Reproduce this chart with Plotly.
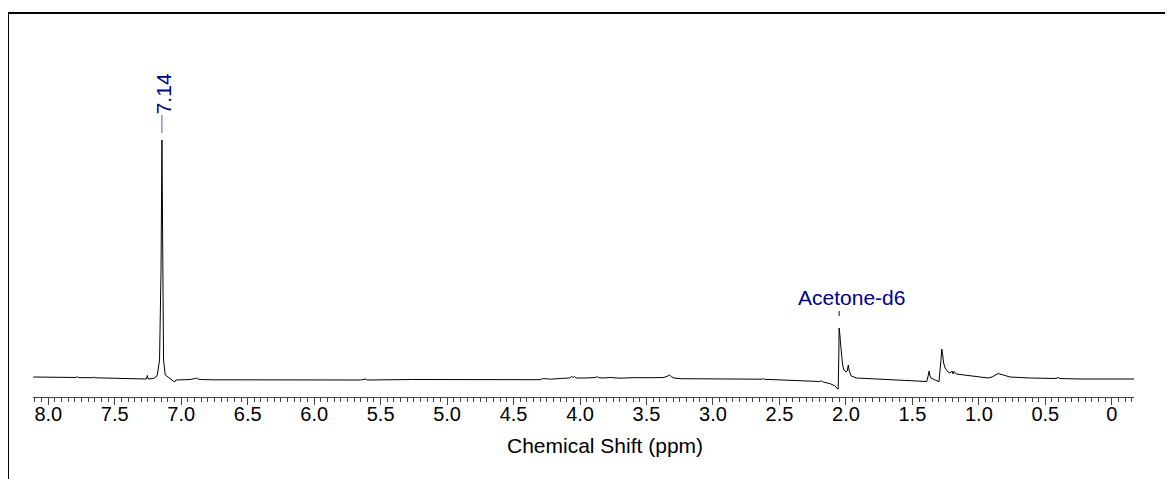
import plotly.graph_objects as go

# ---- data ----
shift_ppm = [
    8.113, 7.910, 7.790, 7.782, 7.775, 7.662, 7.655, 7.648, 7.534, 7.406,
    7.308, 7.263, 7.255, 7.248, 7.210, 7.190, 7.180, 7.163, 7.152, 7.145,
    7.138, 7.133, 7.120, 7.100, 7.075, 7.060, 7.050, 7.040, 6.932, 6.895,
    6.887, 6.870, 6.857, 6.759, 6.481, 5.650, 5.616, 5.600, 5.262, 4.300,
    4.277, 4.250, 4.224, 4.149, 4.080, 4.062, 4.051, 4.040, 4.029, 3.961,
    3.880, 3.871, 3.860, 3.826, 3.773, 3.698, 3.608, 3.450, 3.370, 3.340,
    3.326, 3.310, 3.292, 3.247, 2.923, 2.720, 2.630, 2.622, 2.612, 2.570,
    2.419, 2.269, 2.200, 2.185, 2.171, 2.119, 2.081, 2.066, 2.058, 2.054,
    2.051, 2.046, 2.040, 2.034, 2.025, 2.015, 2.000, 1.990, 1.982, 1.975,
    1.960, 1.920, 1.760, 1.600, 1.442, 1.392, 1.380, 1.374, 1.368, 1.360,
    1.329, 1.300, 1.285, 1.279, 1.272, 1.265, 1.254, 1.231, 1.216, 1.201,
    1.194, 1.186, 1.171, 1.141, 1.066, 0.991, 0.930, 0.900, 0.870, 0.855,
    0.817, 0.765, 0.614, 0.420, 0.404, 0.390, 0.238, 0.100, 0.000, -0.176,
]
intensity = [
    3.0, 2.7, 2.5, 3.5, 2.4, 2.3, 3.0, 2.2, 1.8, 1.5,
    1.2, 1.0, 4.5, 1.0, 1.5, 3.0, 5.0, 20.0, 110.0, 240.0,
    110.0, 20.0, 5.0, 3.0, 0.5, -0.5, -2.0, 0.0, 0.5, 1.5,
    2.0, 0.8, 0.5, 0.2, 0.0, 0.0, 1.0, 0.0, 0.5, 0.3,
    1.5, 0.8, 0.8, 1.5, 2.0, 3.5, 2.5, 3.5, 2.0, 2.0,
    2.5, 3.5, 2.3, 2.0, 2.5, 1.8, 2.3, 2.3, 2.5, 4.0,
    5.0, 3.0, 2.0, 1.3, 1.0, 0.7, 0.8, 1.5, 0.6, 0.5,
    -0.3, -1.0, -1.5, -0.8, -2.0, -3.7, -6.0, -8.7, -9.0, 20.0,
    52.0, 46.0, 36.0, 25.0, 15.0, 10.0, 8.0, 9.0, 15.0, 9.0,
    4.0, 2.0, 1.0, 0.0, -0.7, -1.5, 5.0, 9.0, 4.0, 2.0,
    0.0, -1.7, 20.0, 31.0, 25.0, 17.0, 12.0, 8.0, 7.0, 9.0,
    6.0, 8.5, 6.0, 5.5, 4.0, 3.0, 2.0, 3.0, 5.5, 6.5,
    5.0, 3.0, 2.0, 1.5, 2.5, 1.5, 1.0, 1.0, 1.0, 1.0,
]

tick_values = [8.0, 7.5, 7.0, 6.5, 6.0, 5.5, 5.0, 4.5, 4.0, 3.5, 3.0, 2.5, 2.0, 1.5, 1.0, 0.5, 0.0]
tick_labels = ["8.0", "7.5", "7.0", "6.5", "6.0", "5.5", "5.0", "4.5", "4.0", "3.5",
               "3.0", "2.5", "2.0", "1.5", "1.0", "0.5", "0"]

peak_label_ppm = 7.145
peak_label_text = "7.14"
solvent_ppm = 2.051
solvent_text = "Acetone-d6"
x_title = "Chemical Shift (ppm)"

FONT = "Arial, Liberation Sans, sans-serif"
LABEL_BLUE = "#00008C"

fig = go.Figure()
fig.add_trace(go.Scatter(
    x=shift_ppm, y=intensity, mode="lines",
    line=dict(color="black", width=1),
    hoverinfo="skip", showlegend=False,
))

# peak label 7.14 (vertical text) with connecting line
fig.add_annotation(
    x=7.131, y=286.5, xref="x", yref="y", text=peak_label_text,
    textangle=-90, showarrow=False, xanchor="center", yanchor="middle",
    font=dict(family=FONT, size=21, color=LABEL_BLUE),
)
fig.add_shape(type="line", xref="x", yref="y",
              x0=peak_label_ppm, x1=peak_label_ppm, y0=247, y1=265,
              line=dict(color="#5a5ac8", width=1))

# solvent label
fig.add_annotation(
    x=1.955, y=82.5, xref="x", yref="y", text=solvent_text,
    showarrow=False, xanchor="center", yanchor="middle",
    font=dict(family=FONT, size=21, color=LABEL_BLUE),
)
fig.add_shape(type="line", xref="x", yref="y",
              x0=solvent_ppm, x1=solvent_ppm, y0=64, y1=69,
              line=dict(color=LABEL_BLUE, width=1))

# axis title (placed as annotation to match off-centre position)
fig.add_annotation(
    x=0.5195, y=-0.1286, xref="paper", yref="paper", text=x_title,
    showarrow=False, xanchor="center", yanchor="middle",
    font=dict(family=FONT, size=21, color="black"),
)

# outer frame (top and left edges visible)
fig.add_shape(type="line", xref="paper", yref="paper",
              x0=-0.0227, x1=1.06, y0=1.0186, y1=1.0186,
              line=dict(color="black", width=2))
fig.add_shape(type="line", xref="paper", yref="paper",
              x0=-0.0227, x1=-0.0227, y0=-0.3, y1=1.0186,
              line=dict(color="black", width=2))

fig.update_layout(
    width=1165, height=471,
    margin=dict(l=25, r=39, t=12, b=82),
    paper_bgcolor="white", plot_bgcolor="white",
    font=dict(family=FONT, color="black"),
    xaxis=dict(
        range=[8.115, -0.167],
        tickmode="array", tickvals=tick_values, ticktext=tick_labels,
        ticks="outside", ticklen=7, tickwidth=1, tickcolor="#444",
        showline=True, linecolor="#444", linewidth=1,
        showgrid=False, zeroline=False,
        tickfont=dict(family=FONT, size=20, color="black"),
        ticklabelstandoff=-8,
        minor=dict(tickmode="linear", tick0=0, dtick=0.05,
                   ticks="outside", ticklen=4, tickwidth=1, tickcolor="#444",
                   showgrid=False),
    ),
    yaxis=dict(range=[-17, 360], visible=False),
)

fig.write_html("out.html")
